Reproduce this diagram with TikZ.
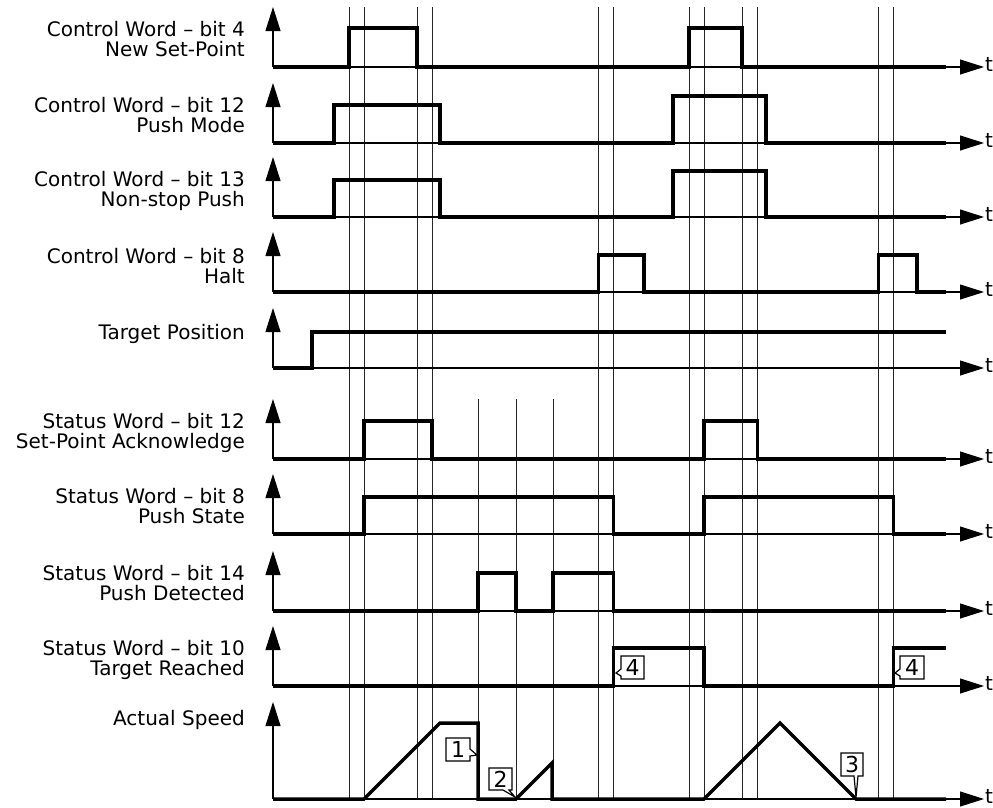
\documentclass[tikz,border=0pt]{standalone}
\usepackage{fontspec}
\setmainfont{DejaVu Sans}
\usetikzlibrary{arrows.meta}
\begin{document}
\begin{tikzpicture}[
    x=1pt, y=-1pt,
    font=\fontsize{20}{19.5}\selectfont,
    asse/.style={line width=1.1pt,-{Triangle[length=24pt,width=15pt]}},
    griglia/.style={line width=1pt,black!85},
    segnale/.style={line width=3.5pt,line join=miter},
    etichetta/.style={anchor=base east,align=right,inner sep=0pt},
    richiamo/.style={draw,fill=white,line width=1.2pt,line join=miter},
    numero/.style={font=\fontsize{22}{22}\selectfont,inner sep=0pt}]

  \useasboundingbox (0,0) rectangle (993,807);

  % ---- linee verticali di riferimento ---------------------------------------
  \foreach \x in {349,364,417,432,598.5,613.5,689,704,742.5,757.5,878.5,893.5}
    \draw[griglia] (\x,7) -- (\x,799);
  \foreach \x in {478,516,553}
    \draw[griglia] (\x,399) -- (\x,799);

  % ---- assi dei segnali (L = livello basso, T = punta della freccia) --------
  \foreach \L/\T [count=\i] in {67/7,143/83,217/157,292/232,368/308,
                                459/399,534/474,611/551,686/626,799/702} {
    \draw[asse] (273,\L) -- (273,\T);
    \draw[asse] (273,\L) -- (984,\L);
    \node[anchor=west,inner sep=0pt] (t\i) at (985,\L-3) {t};
  }

  % ---- nomi dei segnali (base = ultima riga) --------------------------------
  \node[etichetta] (cw4)  at (245,56)  {Control Word – bit 4\\New Set-Point};
  \node[etichetta] (cw12) at (245,132) {Control Word – bit 12\\Push Mode};
  \node[etichetta] (cw13) at (245,206) {Control Word – bit 13\\Non-stop Push};
  \node[etichetta] (cw8)  at (245,283) {Control Word – bit 8\\Halt};
  \node[etichetta] (tpos) at (245,339) {Target Position};
  \node[etichetta] (sw12) at (245,448) {Status Word – bit 12\\Set-Point Acknowledge};
  \node[etichetta] (sw8)  at (245,523) {Status Word – bit 8\\Push State};
  \node[etichetta] (sw14) at (245,600) {Status Word – bit 14\\Push Detected};
  \node[etichetta] (sw10) at (245,675) {Status Word – bit 10\\Target Reached};
  \node[etichetta] (vel)  at (245,725) {Actual Speed};

  % ---- forme d'onda ---------------------------------------------------------
  \draw[segnale] (273,67) -- (349,67) |- (417,28) |- (689,67) |- (742,28) |- (946,67);
  \draw[segnale] (273,143) -- (334,143) |- (440,105) |- (673,143) |- (766,96) |- (946,143);
  \draw[segnale] (273,217) -- (334,217) |- (440,180) |- (673,217) |- (766,171) |- (946,217);
  \draw[segnale] (273,292) -- (598.5,292) |- (644,255) |- (878.5,292) |- (917,255) |- (946,292);
  \draw[segnale] (273,368) -- (312,368) |- (946,332);
  \draw[segnale] (273,459) -- (364,459) |- (432,421) |- (704,459) |- (757.5,421) |- (946,459);
  \draw[segnale] (273,534) -- (364,534) |- (613.5,497) |- (704,534) |- (893.5,497) |- (946,534);
  \draw[segnale] (273,611) -- (478,611) |- (516,573) |- (553,611) |- (613.5,573) |- (946,611);
  \draw[segnale] (273,686) -- (613.5,686) |- (704,648) |- (893.5,686) |- (946,648);
  \draw[segnale] (273,799) -- (364,799) -- (440,723) -- (478,723) -- (478,799)
                 -- (516,799) -- (552,763) -- (552,799) -- (704,799) -- (780,723)
                 -- (856,799) -- (946,799);

  % ---- richiami numerati ----------------------------------------------------
  \draw[richiamo] (446,738) -- (470,738) -- (470,749) -- (477,755) -- (470,756)
                  -- (470,761) -- (446,761) -- cycle;
  \node[numero] (n1) at (458,749.5) {1};
  \draw[richiamo] (489,768) -- (512,768) -- (512,790) -- (509,790) -- (515,797)
                  -- (503,790) -- (489,790) -- cycle;
  \node[numero] (n2) at (500.5,779) {2};
  \draw[richiamo] (841,753) -- (863,753) -- (863,776) -- (858,776) -- (856,797)
                  -- (854,776) -- (841,776) -- cycle;
  \node[numero] (n3) at (852,764.5) {3};
  \draw[richiamo] (621,656) -- (644,656) -- (644,679) -- (621,679) -- (621,676)
                  -- (616,673) -- (621,669) -- cycle;
  \node[numero] (n4a) at (632.5,667.5) {4};
  \draw[richiamo] (900,656) -- (924,656) -- (924,679) -- (900,679) -- (900,676)
                  -- (895,673) -- (900,669) -- cycle;
  \node[numero] (n4b) at (912,667.5) {4};

\end{tikzpicture}
\end{document}
